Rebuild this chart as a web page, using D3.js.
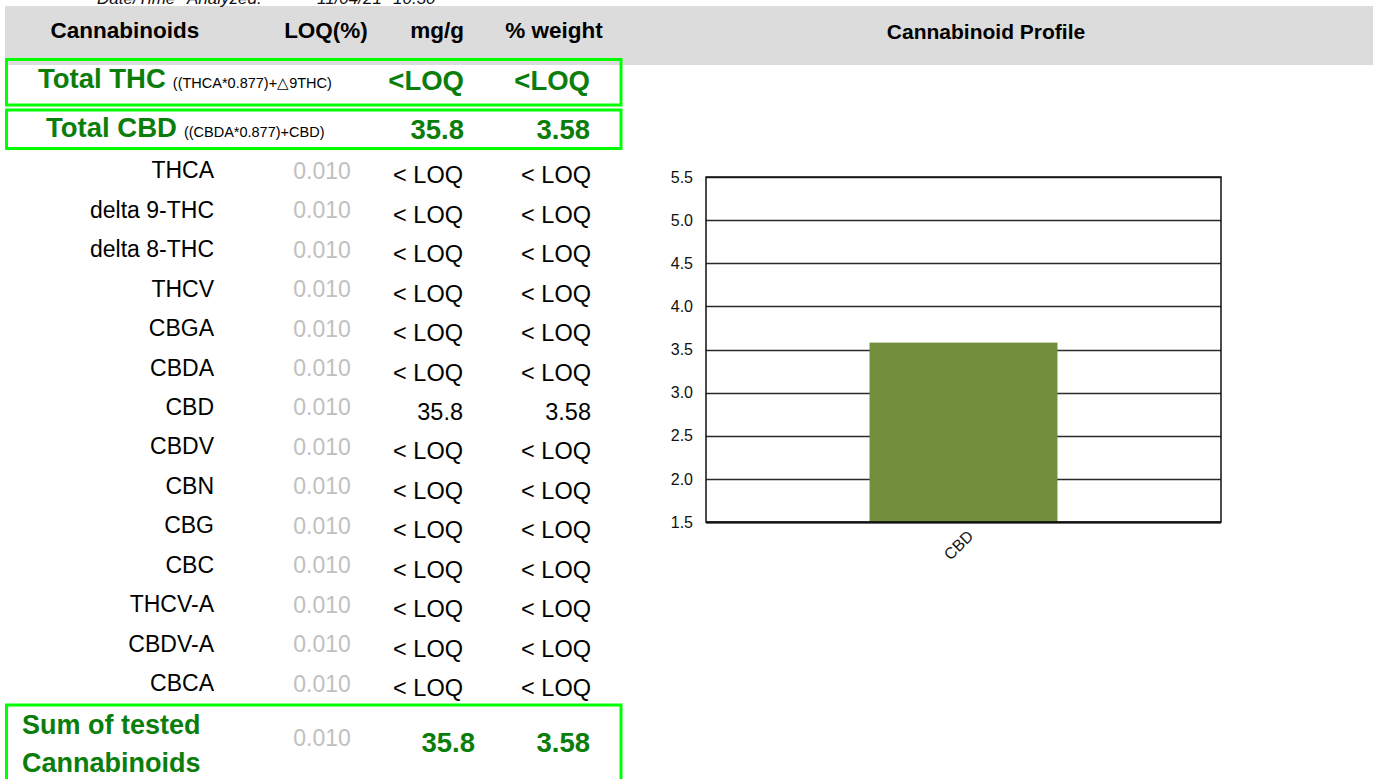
<!DOCTYPE html>
<html>
<head>
<meta charset="utf-8">
<script src="https://cdn.jsdelivr.net/npm/d3@7"></script>
<style>
  html, body { margin: 0; padding: 0; background: #fff; }
  svg { display: block; font-family: "Liberation Sans", Arial, Helvetica, sans-serif; }
</style>
</head>
<body>
<svg id="chart" width="1373" height="779"></svg>
<script>
// ---------- data ----------
const headerColumns = ["Cannabinoids", "LOQ(%)", "mg/g", "% weight"];
const cannabinoidNames = ["THCA", "delta 9-THC", "delta 8-THC", "THCV", "CBGA", "CBDA", "CBD", "CBDV", "CBN", "CBG", "CBC", "THCV-A", "CBDV-A", "CBCA"];
const loqValues = ["0.010", "0.010", "0.010", "0.010", "0.010", "0.010", "0.010", "0.010", "0.010", "0.010", "0.010", "0.010", "0.010", "0.010"];
const mgPerGram = ["< LOQ", "< LOQ", "< LOQ", "< LOQ", "< LOQ", "< LOQ", "35.8", "< LOQ", "< LOQ", "< LOQ", "< LOQ", "< LOQ", "< LOQ", "< LOQ"];
const percentWeight = ["< LOQ", "< LOQ", "< LOQ", "< LOQ", "< LOQ", "< LOQ", "3.58", "< LOQ", "< LOQ", "< LOQ", "< LOQ", "< LOQ", "< LOQ", "< LOQ"];
const totalLabels = ["Total THC", "Total CBD"];
const totalFormulas = ["((THCA*0.877)+\u25B39THC)", "((CBDA*0.877)+CBD)"];
const totalMg = ["<LOQ", "35.8"];
const totalPct = ["<LOQ", "3.58"];
const sumLabelLines = ["Sum of tested", "Cannabinoids"];
const sumLoq = "0.010";
const sumMg = "35.8";
const sumPct = "3.58";
const dateParts = ["Date/Time", "Analyzed:", "11/04/21", "10:30"];

const chartTitle = "Cannabinoid Profile";
const chartCategories = ["CBD"];
const chartValues = [3.58];
const yTickValues = [1.5, 2.0, 2.5, 3.0, 3.5, 4.0, 4.5, 5.0, 5.5];

// ---------- drawing ----------
const svg = d3.select("#chart");
const GREEN_TEXT = "#0b7d0b";
const GREEN_BOX = "#00ff00";

// header band
svg.append("rect").attr("x", 5).attr("y", 6).attr("width", 1368).attr("height", 59).attr("fill", "#dcdcdc");

// date line (cut off at top, as in the reference)
const dateX = [97, 187, 317, 393];
svg.selectAll("text.date").data(dateParts).join("text")
  .attr("class", "date")
  .attr("x", (d, i) => dateX[i]).attr("y", 4)
  .attr("font-size", 17).attr("font-style", "italic").attr("fill", "#111")
  .text(d => d);

// table header
const headX = [125, 326, 437, 554];
svg.selectAll("text.head").data(headerColumns).join("text")
  .attr("class", "head")
  .attr("x", (d, i) => headX[i]).attr("y", 38)
  .attr("text-anchor", "middle")
  .attr("font-size", 22.5).attr("font-weight", "bold").attr("fill", "#000")
  .text(d => d);

// chart title
svg.append("text").attr("x", 986).attr("y", 39).attr("text-anchor", "middle")
  .attr("font-size", 21).attr("font-weight", "bold").attr("fill", "#000")
  .text(chartTitle);

// total boxes
const boxes = [{y: 59.5, h: 45.5}, {y: 110, h: 38.5}];
svg.selectAll("rect.tbox").data(boxes).join("rect")
  .attr("class", "tbox")
  .attr("x", 6.5).attr("y", d => d.y).attr("width", 614.5).attr("height", d => d.h)
  .attr("fill", "none").attr("stroke", GREEN_BOX).attr("stroke-width", 3);

const totalBase = [88, 137];
const totalLabelX = [38, 46];
totalLabels.forEach((lab, i) => {
  const t = svg.append("text").attr("x", totalLabelX[i]).attr("y", totalBase[i]);
  t.append("tspan").attr("font-size", 27.5).attr("font-weight", "bold").attr("fill", GREEN_TEXT).text(lab);
  t.append("tspan").attr("font-size", 14.5).attr("fill", "#000").attr("dx", 7).text(totalFormulas[i]);
  svg.append("text").attr("x", 464).attr("y", totalBase[i] + 2).attr("text-anchor", "end")
    .attr("font-size", 27.5).attr("font-weight", "bold").attr("fill", GREEN_TEXT).text(totalMg[i]);
  svg.append("text").attr("x", 590).attr("y", totalBase[i] + 2).attr("text-anchor", "end")
    .attr("font-size", 27.5).attr("font-weight", "bold").attr("fill", GREEN_TEXT).text(totalPct[i]);
});

// individual rows
const rowY = d3.scalePoint().domain(d3.range(cannabinoidNames.length)).range([178.2, 178.2 + 39.46 * 13]);
const rows = svg.selectAll("g.row").data(cannabinoidNames).join("g").attr("class", "row");
rows.append("text").attr("x", 214).attr("y", (d, i) => rowY(i)).attr("text-anchor", "end")
  .attr("font-size", 23).attr("fill", "#000").text(d => d);
rows.append("text").attr("x", 322).attr("y", (d, i) => rowY(i) + 0.5).attr("text-anchor", "middle")
  .attr("font-size", 23).attr("fill", "#c0c0c0").text((d, i) => loqValues[i]);
rows.append("text").attr("x", 463).attr("y", (d, i) => rowY(i) + 5).attr("text-anchor", "end")
  .attr("font-size", 23.5).attr("fill", "#000").text((d, i) => mgPerGram[i]);
rows.append("text").attr("x", 591).attr("y", (d, i) => rowY(i) + 5).attr("text-anchor", "end")
  .attr("font-size", 23.5).attr("fill", "#000").text((d, i) => percentWeight[i]);

// sum box
svg.append("rect").attr("x", 6.5).attr("y", 705).attr("width", 614.5).attr("height", 90)
  .attr("fill", "none").attr("stroke", GREEN_BOX).attr("stroke-width", 3);
svg.selectAll("text.sumlab").data(sumLabelLines).join("text")
  .attr("class", "sumlab")
  .attr("x", 22).attr("y", (d, i) => 734 + i * 38)
  .attr("font-size", 27).attr("font-weight", "bold").attr("fill", GREEN_TEXT).text(d => d);
svg.append("text").attr("x", 322).attr("y", 746).attr("text-anchor", "middle")
  .attr("font-size", 23).attr("fill", "#c0c0c0").text(sumLoq);
svg.append("text").attr("x", 475).attr("y", 752).attr("text-anchor", "end")
  .attr("font-size", 27.5).attr("font-weight", "bold").attr("fill", GREEN_TEXT).text(sumMg);
svg.append("text").attr("x", 590).attr("y", 752).attr("text-anchor", "end")
  .attr("font-size", 27.5).attr("font-weight", "bold").attr("fill", GREEN_TEXT).text(sumPct);

// ---------- bar chart ----------
const plot = {left: 706, right: 1221, top: 177, bottom: 522};
const x = d3.scaleBand().domain(chartCategories).range([plot.left, plot.right]).paddingInner(0).paddingOuter(0.87);
const y = d3.scaleLinear().domain([1.5, 5.5]).range([plot.bottom, plot.top]);

// gridlines
svg.append("g").selectAll("line").data(yTickValues).join("line")
  .attr("x1", plot.left).attr("x2", plot.right)
  .attr("y1", d => Math.round(y(d)) + 0.5).attr("y2", d => Math.round(y(d)) + 0.5)
  .attr("stroke", "#2a2a2a").attr("stroke-width", 1.3);

// bars
svg.append("g").selectAll("rect").data(chartValues).join("rect")
  .attr("x", (d, i) => x(chartCategories[i]))
  .attr("width", x.bandwidth())
  .attr("y", d => y(d))
  .attr("height", d => y(1.5) - y(d))
  .attr("fill", "#718f3d");

// frame
svg.append("rect").attr("x", plot.left).attr("y", plot.top)
  .attr("width", plot.right - plot.left).attr("height", plot.bottom - plot.top)
  .attr("fill", "none").attr("stroke", "#111").attr("stroke-width", 1.5);
svg.append("line").attr("x1", plot.left).attr("x2", plot.right)
  .attr("y1", plot.bottom + 0.5).attr("y2", plot.bottom + 0.5)
  .attr("stroke", "#111").attr("stroke-width", 2);

// y axis
const yAxis = d3.axisLeft(y).tickValues(yTickValues).tickFormat(d3.format(".1f")).tickSize(0).tickPadding(13);
const yg = svg.append("g").attr("transform", `translate(${plot.left},0)`).call(yAxis);
yg.select(".domain").remove();
yg.selectAll("text").attr("font-size", 16).attr("fill", "#111")
  .attr("font-family", "'Liberation Sans', Arial, sans-serif");

// x axis
const xAxis = d3.axisBottom(x).tickSize(0).tickPadding(0);
const xg = svg.append("g").attr("transform", `translate(0,${plot.bottom})`).call(xAxis);
xg.select(".domain").remove();
xg.selectAll("text")
  .attr("font-size", 16).attr("fill", "#111")
  .attr("font-family", "'Liberation Sans', Arial, sans-serif")
  .attr("text-anchor", "end")
  .attr("dy", 0)
  .attr("transform", "translate(11,15) rotate(-45)");
</script>
</body>
</html>
